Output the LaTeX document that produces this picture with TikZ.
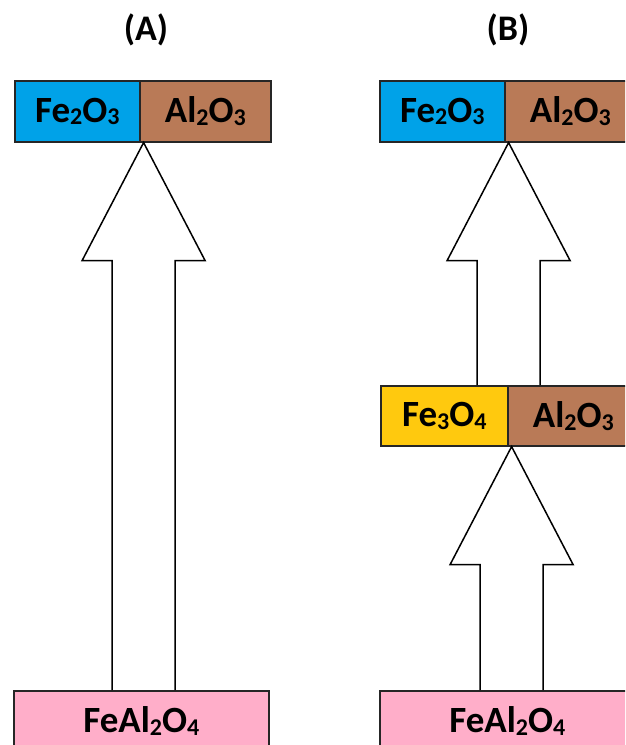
\documentclass[tikz,border=0pt]{standalone}
\usepackage{fontspec}
\setmainfont{Carlito}
\usetikzlibrary{calc}

\definecolor{hematite}{HTML}{00A2E8}
\definecolor{alumina}{HTML}{B97A57}
\definecolor{magnetite}{HTML}{FFC90E}
\definecolor{hercynite}{HTML}{FFAEC9}

% chemical subscript
\newcommand\chs[1]{\raisebox{-0.07em}{\fontsize{24}{24}\selectfont #1}}

% hollow block arrow: #1 = tip point, #2 = point on the base line
\newcommand\blockarrow[2]{%
  \path (#1) ++(3,0) coordinate (bat);
  \path (#2) coordinate (bab);
  \draw[hollowarrow]
    ($(bat|-bab)+(-31.5,0)$) -- ($(bat)+(-31.5,118)$) -- ($(bat)+(-61.5,118)$)
    -- (bat) -- ($(bat)+(61.5,118)$) -- ($(bat)+(31.5,118)$) -- ($(bat|-bab)+(31.5,0)$);
}

\begin{document}
\begin{tikzpicture}[x=1pt,y=-1pt,
  phase/.style={draw=black!85, line width=1.6pt, minimum height=61pt, inner sep=0pt,
                anchor=north west, text=black, font=\bfseries\fontsize{37}{37}\selectfont},
  hollowarrow/.style={draw=black, line width=1.5pt, line join=miter},
  panel/.style={font=\bfseries\fontsize{36}{36}\selectfont, text=black}]
\useasboundingbox (0,0) rectangle (625,745);
\clip (0,0) rectangle (625,745);

% titles
\node[panel] (ta) at (146,30) {(A)};
\node[panel] (tb) at (508,30) {(B)};

% panel A
\node[phase, fill=hematite, minimum width=125pt] (aFe) at (14,80) {Fe\chs{2}O\chs{3}};
\node[phase, fill=alumina,  minimum width=131pt] (aAl) at (139,80) {Al\chs{2}O\chs{3}};
\node[phase, fill=hercynite, minimum width=255pt] (aSp) at (13,690) {FeAl\chs{2}O\chs{4}};

% panel B
\node[phase, fill=hematite, minimum width=125pt] (bFe) at (379,80) {Fe\chs{2}O\chs{3}};
\node[phase, fill=alumina,  minimum width=131pt] (bAl) at (504,80) {Al\chs{2}O\chs{3}};
\node[phase, fill=magnetite, minimum width=127pt, minimum height=60pt] (mFe) at (380,385) {Fe\chs{3}O\chs{4}};
\node[phase, fill=alumina,   minimum width=131pt, minimum height=60pt] (mAl) at (507,385) {Al\chs{2}O\chs{3}};
\node[phase, fill=hercynite, minimum width=255pt] (bSp) at (379,690) {FeAl\chs{2}O\chs{4}};

% transformation arrows
\blockarrow{aFe.south east}{aSp.north}
\blockarrow{bFe.south east}{mFe.north}
\blockarrow{mFe.south east}{bSp.north}
\end{tikzpicture}
\end{document}
